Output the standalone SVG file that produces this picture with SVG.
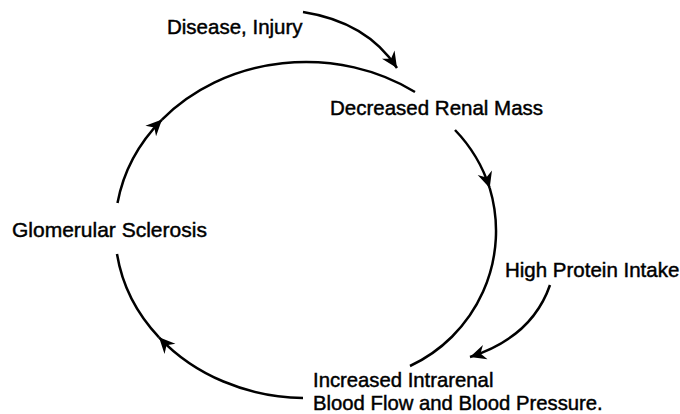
<svg xmlns="http://www.w3.org/2000/svg" width="680" height="414" viewBox="0 0 680 414">
<style>
  .lbl { font-family: "Liberation Sans", Arial, Helvetica, sans-serif; font-size: 20.5px; fill: #000; stroke: #000; stroke-width: 0.45; }
  .edge { fill: none; stroke: #000; stroke-width: 2.5; stroke-linecap: butt; }
</style>
<defs>
  <marker id="ah" viewBox="-17 -8 18 16" refX="0" refY="0" markerWidth="18" markerHeight="16" markerUnits="userSpaceOnUse" orient="auto">
    <path d="M0,0 L-16,-7.5 L-11,0 L-16,7.5 Z" fill="#000"/>
  </marker>
</defs>
<rect width="680" height="414" fill="#fff"/>
<g id="connectors">
  <path class="edge" d="M303,12 Q367,22 397,68" marker-end="url(#ah)"/>
  <path class="edge" d="M117.5,203 A191,168 0 0 1 162,119.6" marker-end="url(#ah)"/>
  <path class="edge" d="M162,119.6 A191,168 0 0 1 415,92"/>
  <path class="edge" d="M455,130 A149,149 0 0 1 489.7,188" marker-end="url(#ah)"/>
  <path class="edge" d="M489.7,188 A149,149 0 0 1 410,366"/>
  <path class="edge" d="M550,285 Q532,337 470,357" marker-end="url(#ah)"/>
  <path class="edge" d="M303,398 A191,168 0 0 1 159,337.3" marker-end="url(#ah)"/>
  <path class="edge" d="M159,337.3 A191,168 0 0 1 117,254"/>
</g>
<g id="disease"><text class="lbl" x="167" y="34">Disease, Injury</text></g>
<g id="renal-mass"><text class="lbl" x="330" y="115">Decreased Renal Mass</text></g>
<g id="protein"><text class="lbl" x="505" y="277">High Protein Intake</text></g>
<g id="sclerosis"><text class="lbl" x="12" y="237" style="font-size:21px">Glomerular Sclerosis</text></g>
<g id="intrarenal">
  <text class="lbl" x="313" y="387" style="font-size:20.3px">Increased Intrarenal</text>
  <text class="lbl" x="313" y="410" style="font-size:20.3px">Blood Flow and Blood Pressure.</text>
</g>
</svg>
